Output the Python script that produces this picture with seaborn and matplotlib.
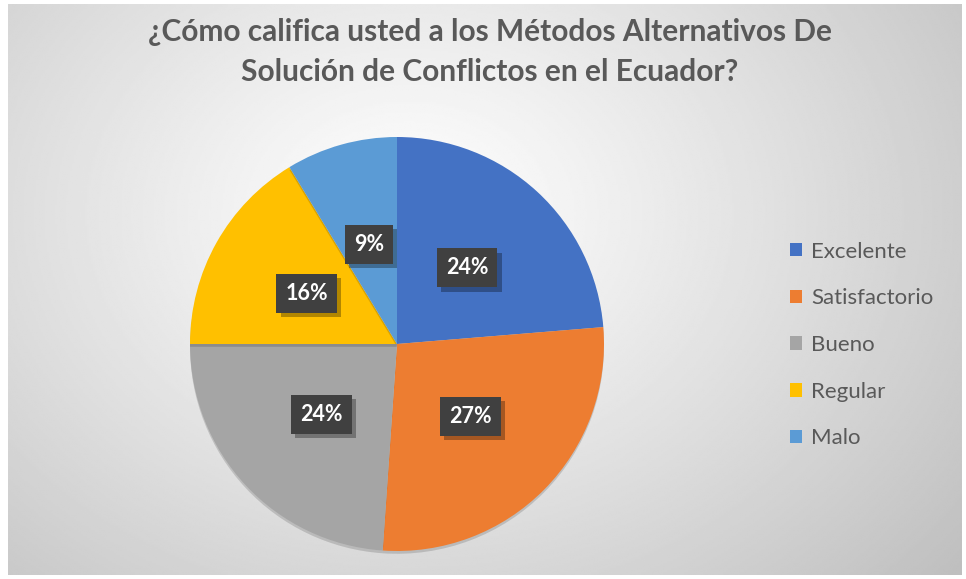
import numpy as np
import matplotlib
matplotlib.use("Agg")
import matplotlib.pyplot as plt
import matplotlib.patheffects as pe
import seaborn as sns

# Data
categories = ["Excelente", "Satisfactorio", "Bueno", "Regular", "Malo"]
values = [23.7, 27.4, 23.9, 16.3, 8.7]
colors = ["#4472C4", "#ED7D31", "#A5A5A5", "#FFC000", "#5B9BD5"]
title = "¿Cómo califica usted a los Métodos Alternativos De\nSolución de Conflictos en el Ecuador?"

sns.set_theme(style="white")
plt.rcParams["font.family"] = ["Lato", "DejaVu Sans"]

W, H = 966, 579
fig = plt.figure(figsize=(W / 100, H / 100), dpi=100)
fig.patch.set_facecolor("white")

# --- background: radial gradient in the chart area ---
bg = fig.add_axes([8 / W, 4 / H, (W - 12) / W, (H - 8) / H])
yy, xx = np.mgrid[0:300, 0:500]
cx, cy = 210, 110
d = np.sqrt(((xx - cx) / 330) ** 2 + ((yy - cy) / 260) ** 2)
shade = 1.0 - 0.22 * np.clip(d, 0, 1.3) ** 1.1
bg.imshow(shade, cmap="gray", vmin=0, vmax=1, aspect="auto", interpolation="bilinear")
bg.set_axis_off()

# --- pie ---
r_px = 207
cx_px, cy_px = 397, 344
ax = fig.add_axes([(cx_px - r_px) / W, (H - cy_px - r_px) / H, 2 * r_px / W, 2 * r_px / H])
wedges, texts, autotexts = ax.pie(
    values,
    colors=colors,
    startangle=90,
    counterclock=False,
    autopct=lambda p: f"{p:.0f}%",
    pctdistance=0.5,
    wedgeprops=dict(linewidth=0),
    textprops=dict(color="white", fontsize=15.5, fontweight="bold"),
)
ax.set_xlim(-1, 1)
ax.set_ylim(-1, 1)
ax.set_aspect("equal")
for w in wedges:
    w.set_path_effects([pe.SimplePatchShadow(offset=(0, -2), alpha=0.15, shadow_rgbFace="black"), pe.Normal()])

for t in autotexts:
    t.set_bbox(dict(boxstyle="square,pad=0.42", facecolor="#404040", edgecolor="none"))
    t.get_bbox_patch().set_path_effects([
        pe.SimplePatchShadow(offset=(3, -3), alpha=0.3, shadow_rgbFace="black"),
        pe.Normal(),
    ])

# --- title ---
fig.text(490 / W, 1 - 52 / H, title, ha="center", va="center",
         fontsize=21.5, fontweight="bold", color="#595959", linespacing=1.5)

# --- legend ---
leg = fig.legend(wedges, categories, loc="center left",
                 bbox_to_anchor=(790 / W, 1 - 345 / H),
                 frameon=False, fontsize=16, labelcolor="#595959",
                 handlelength=0.55, handleheight=0.55, handletextpad=0.4,
                 labelspacing=1.2, borderpad=0, borderaxespad=0)
for h in leg.legend_handles:
    h.set_path_effects([])

fig.savefig("out.png", dpi=100)
